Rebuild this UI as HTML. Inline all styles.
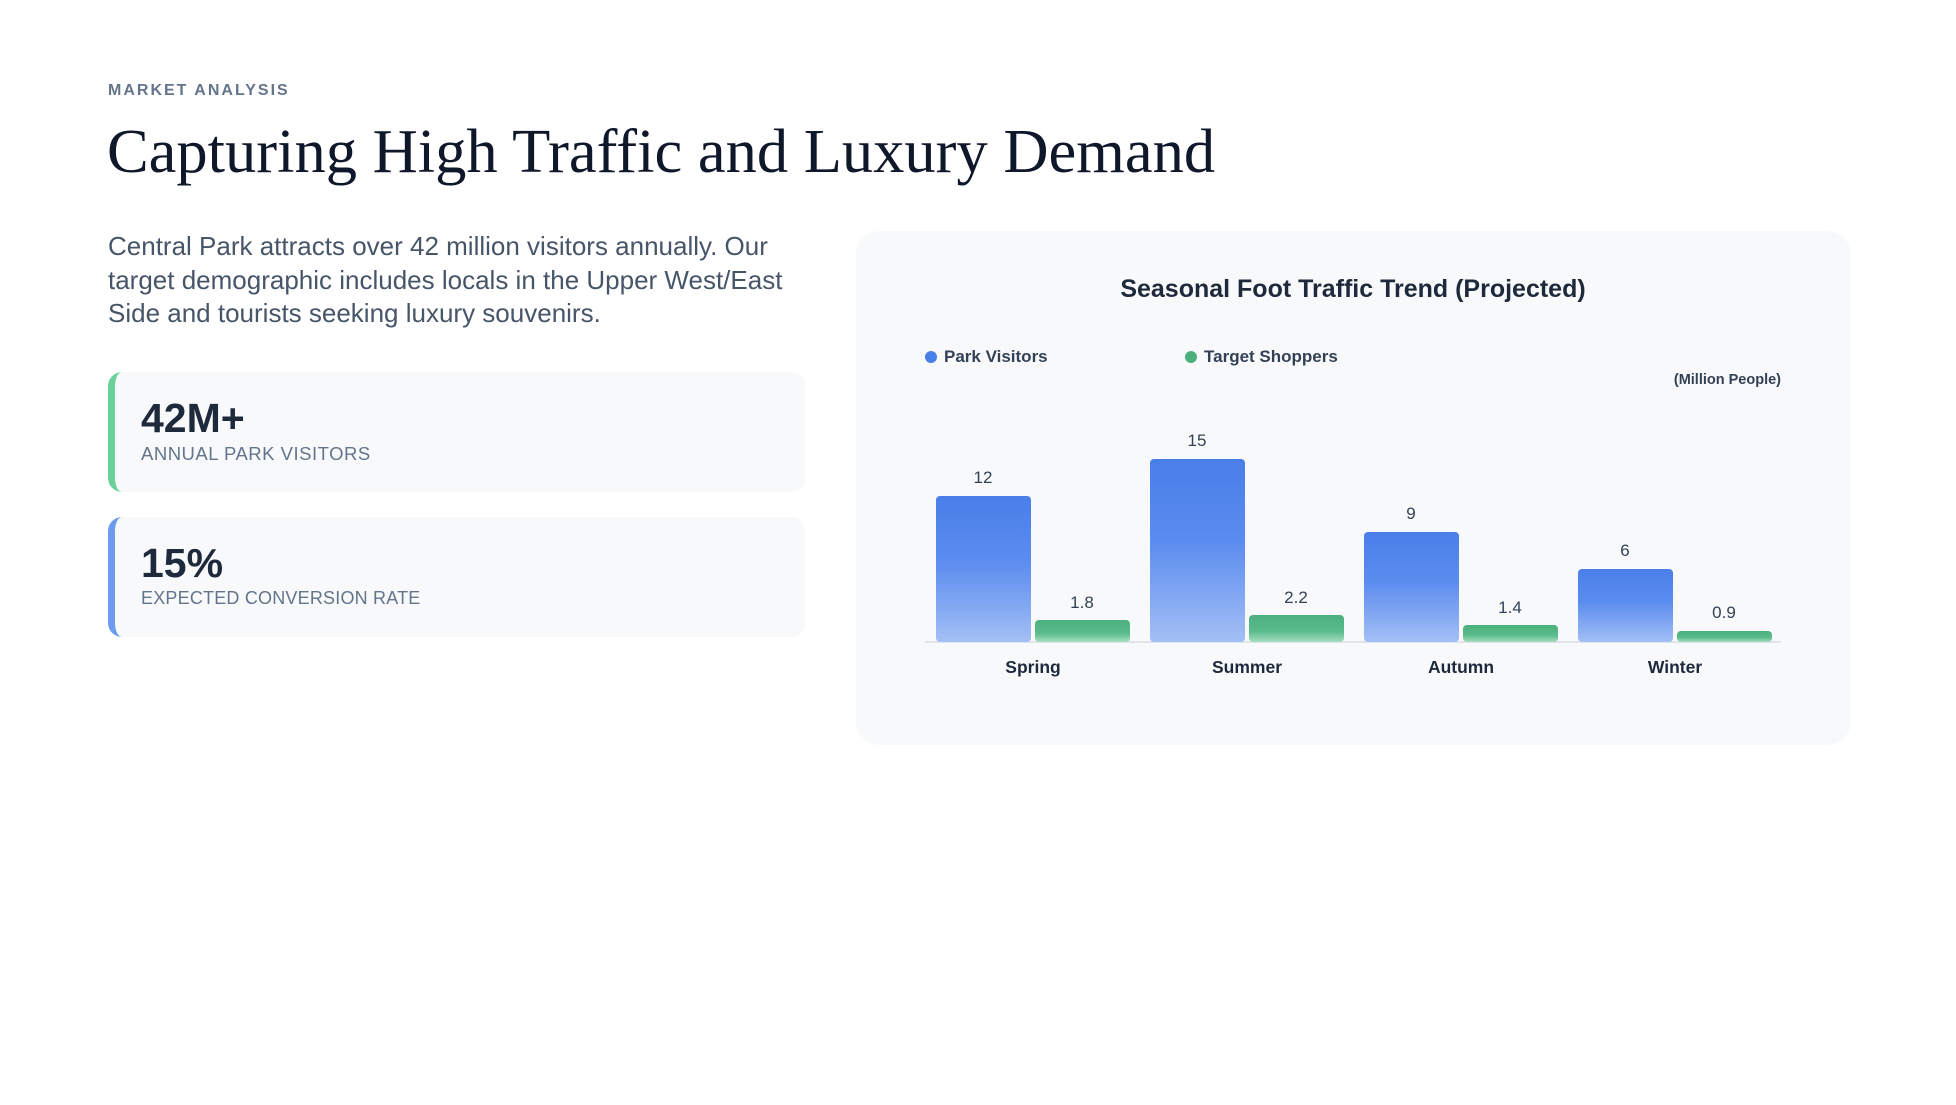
<!DOCTYPE html>
<html><head><meta charset="utf-8"><style>
*{margin:0;padding:0;box-sizing:border-box}
body{width:1956px;height:1105px;background:#fff;font-family:"Liberation Sans",sans-serif;position:relative;overflow:hidden}
.abs{position:absolute}
.eyebrow{left:108px;top:82px;font-size:16px;letter-spacing:2px;color:#64748b;font-weight:bold}
.title{left:107px;top:115px;font-family:"Liberation Serif",serif;font-size:62.5px;color:#0f172a;white-space:nowrap}
.para{left:108px;top:230px;width:700px;font-size:26px;line-height:33.5px;color:#475569}
.card{left:108px;width:697px;height:120px;background:#f8f9fb;border-radius:14px;border-left:7px solid #6bd19c}
.card .v{position:absolute;left:26px;top:23px;font-size:41px;font-weight:bold;color:#1e293b}
.card .l{position:absolute;left:26px;top:71px;font-size:18.5px;letter-spacing:0.5px;color:#64748b}
.panel{left:856px;top:231px;width:995px;height:514px;background:#f8f9fb;border-radius:24px}
</style></head><body>
<div class="abs eyebrow">MARKET ANALYSIS</div>
<div class="abs title">Capturing High Traffic and Luxury Demand</div>
<div class="abs para">Central Park attracts over 42 million visitors annually. Our target demographic includes locals in the Upper West/East Side and tourists seeking luxury souvenirs.</div>
<div class="abs card" style="top:372px"><div class="v">42M+</div><div class="l">ANNUAL PARK VISITORS</div></div>
<div class="abs card" style="top:517px;border-left-color:#6b9cf0"><div class="v">15%</div><div class="l" style="font-size:18px;letter-spacing:0.2px">EXPECTED CONVERSION RATE</div></div>
<div class="abs panel"></div>
<svg class="abs" style="left:0;top:0" width="1956" height="1105">
<defs>
<linearGradient id="b" x1="0" y1="0" x2="0" y2="1"><stop offset="0" stop-color="#4a7fe9"/><stop offset="0.45" stop-color="#5b8cef"/><stop offset="1" stop-color="#a3bff5"/></linearGradient>
<linearGradient id="g" x1="0" y1="0" x2="0" y2="1"><stop offset="0" stop-color="#4cb07e"/><stop offset="0.6" stop-color="#5abb8b"/><stop offset="1" stop-color="#a6dec1"/></linearGradient>
</defs>
<g font-family="Liberation Sans, sans-serif">
<text x="1353" y="297" text-anchor="middle" font-size="25" font-weight="bold" fill="#1e293b">Seasonal Foot Traffic Trend (Projected)</text>
<circle cx="931" cy="357" r="6" fill="#4a7fe9"/><text x="944" y="362" font-size="17" font-weight="bold" fill="#334155">Park Visitors</text>
<circle cx="1191" cy="357" r="6" fill="#4cb07e"/><text x="1204" y="362" font-size="17" font-weight="bold" fill="#334155">Target Shoppers</text>
<text x="1781" y="384" text-anchor="end" font-size="14.5" font-weight="bold" fill="#334155">(Million People)</text>
<line x1="925" y1="642" x2="1781" y2="642" stroke="#d9dee6" stroke-width="1.5"/>
<g font-size="17" fill="#334155" text-anchor="middle">
<rect x="936" y="496" width="95" height="146" rx="4" fill="url(#b)"/><text x="983" y="483">12</text>
<rect x="1035" y="620" width="95" height="22" rx="4" fill="url(#g)"/><text x="1082" y="608">1.8</text>
<rect x="1150" y="459" width="95" height="183" rx="4" fill="url(#b)"/><text x="1197" y="446">15</text>
<rect x="1249" y="615" width="95" height="27" rx="4" fill="url(#g)"/><text x="1296" y="603">2.2</text>
<rect x="1364" y="532" width="95" height="110" rx="4" fill="url(#b)"/><text x="1411" y="519">9</text>
<rect x="1463" y="625" width="95" height="17" rx="4" fill="url(#g)"/><text x="1510" y="613">1.4</text>
<rect x="1578" y="569" width="95" height="73" rx="4" fill="url(#b)"/><text x="1625" y="556">6</text>
<rect x="1677" y="631" width="95" height="11" rx="4" fill="url(#g)"/><text x="1724" y="618">0.9</text>
</g>
<g font-size="17.5" font-weight="bold" fill="#1e293b" text-anchor="middle">
<text x="1033" y="673">Spring</text><text x="1247" y="673">Summer</text><text x="1461" y="673">Autumn</text><text x="1675" y="673">Winter</text>
</g>
</g>
</svg>
</body></html>
